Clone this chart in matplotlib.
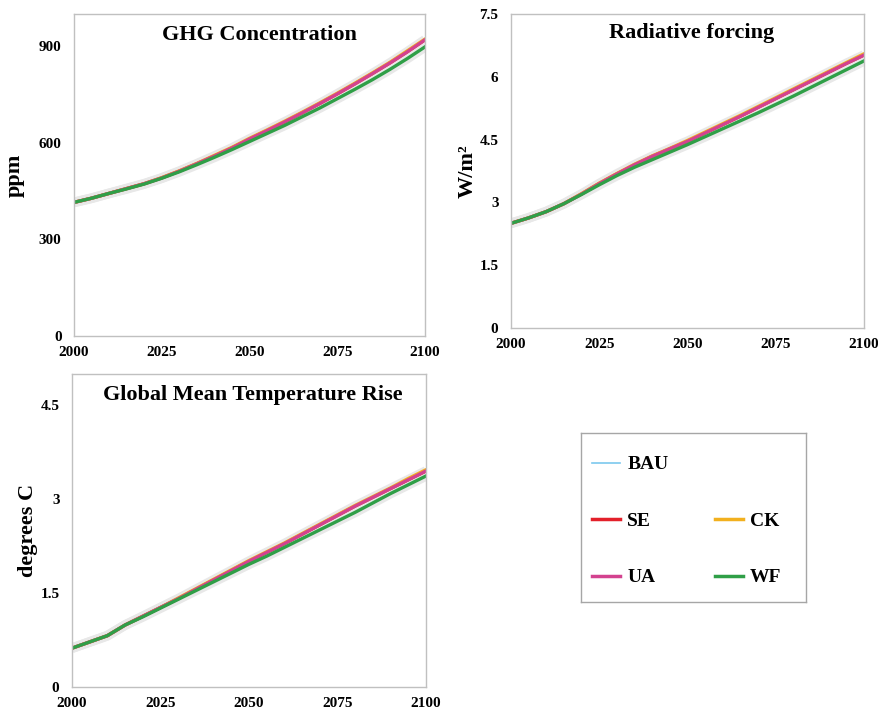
import matplotlib
matplotlib.use("Agg")
import matplotlib.pyplot as plt
from matplotlib.lines import Line2D

plt.rcParams["font.family"] = ["Liberation Serif", "DejaVu Serif"]
plt.rcParams["font.weight"] = "bold"

years = list(range(2000, 2101, 5))

# GHG concentration (ppm)
ghg_ua = [415, 428, 443, 458, 473, 491, 512, 535, 559, 584, 612,
          638, 665, 693, 722, 752, 783, 815, 848, 883, 920]
ghg_ck = [415, 428, 443, 458, 473, 492, 513, 536, 561, 586, 614,
          640, 667, 695, 724, 754, 785, 817, 850, 886, 922]
ghg_bau = ghg_ua
ghg_se = ghg_ua
ghg_wf = [415, 428, 443, 457, 472, 490, 510, 532, 555, 579, 604,
          629, 654, 681, 708, 737, 766, 796, 828, 862, 898]

# Radiative forcing (W/m2)
rf_ua = [2.50, 2.63, 2.78, 2.97, 3.20, 3.45, 3.68, 3.90, 4.10, 4.28, 4.46,
         4.66, 4.86, 5.06, 5.27, 5.48, 5.69, 5.90, 6.11, 6.32, 6.52]
rf_ck = [2.50, 2.63, 2.78, 2.97, 3.21, 3.46, 3.69, 3.91, 4.11, 4.29, 4.48,
         4.68, 4.88, 5.08, 5.29, 5.50, 5.71, 5.92, 6.13, 6.34, 6.55]
rf_bau = rf_ua
rf_se = rf_ua
rf_wf = [2.50, 2.63, 2.78, 2.97, 3.19, 3.42, 3.64, 3.84, 4.02, 4.20, 4.38,
         4.57, 4.76, 4.95, 5.14, 5.34, 5.54, 5.75, 5.96, 6.17, 6.38]

# Global mean temperature rise (degrees C)
tmp_ua = [0.62, 0.72, 0.82, 0.99, 1.13, 1.27, 1.41, 1.56, 1.71, 1.86, 2.01,
          2.15, 2.29, 2.44, 2.59, 2.74, 2.89, 3.03, 3.17, 3.31, 3.45]
tmp_ck = [0.62, 0.72, 0.82, 0.99, 1.13, 1.27, 1.42, 1.57, 1.72, 1.87, 2.02,
          2.16, 2.30, 2.45, 2.60, 2.75, 2.90, 3.04, 3.18, 3.33, 3.47]
tmp_bau = tmp_ua
tmp_se = tmp_ua
tmp_wf = [0.62, 0.72, 0.82, 0.99, 1.12, 1.26, 1.40, 1.54, 1.68, 1.82, 1.96,
          2.09, 2.23, 2.37, 2.51, 2.65, 2.79, 2.94, 3.09, 3.23, 3.37]

scenarios = ["BAU", "SE", "CK", "UA", "WF"]
colors = {"BAU": "#7cc8ee", "SE": "#e3202a", "CK": "#f2b01e",
          "UA": "#d3428f", "WF": "#2f9f47"}
widths = {"BAU": 1.0, "SE": 2.4, "CK": 2.4, "UA": 2.4, "WF": 2.4}

panels = [
    dict(rect=[0.0842, 0.5307, 0.3993, 0.4497], title="GHG Concentration",
         tx=0.528, ty=0.935, ylabel="ppm", ylim=(0, 1000), lpad=10,
         yticks=[0, 300, 600, 900], yticklabels=["0", "300", "600", "900"],
         data={"BAU": ghg_bau, "SE": ghg_se, "CK": ghg_ck, "UA": ghg_ua, "WF": ghg_wf}),
    dict(rect=[0.5813, 0.5419, 0.4016, 0.4385], title="Radiative forcing",
         tx=0.511, ty=0.94, ylabel="W/m²", ylim=(0, 7.5), lpad=1,
         yticks=[0, 1.5, 3, 4.5, 6, 7.5],
         yticklabels=["0", "1.5", "3", "4.5", "6", "7.5"],
         data={"BAU": rf_bau, "SE": rf_se, "CK": rf_ck, "UA": rf_ua, "WF": rf_wf}),
    dict(rect=[0.0819, 0.0405, 0.4027, 0.4372], title="Global Mean Temperature Rise",
         tx=0.51, ty=0.933, ylabel="degrees C", ylim=(0, 5), lpad=2,
         yticks=[0, 1.5, 3, 4.5], yticklabels=["0", "1.5", "3", "4.5"],
         data={"BAU": tmp_bau, "SE": tmp_se, "CK": tmp_ck, "UA": tmp_ua, "WF": tmp_wf}),
]

xticks = [2000, 2025, 2050, 2075, 2100]

fig = plt.figure(figsize=(8.79, 7.16), dpi=100)

for p in panels:
    ax = fig.add_axes(p["rect"])
    d = p["data"]
    # soft grey halo behind the scenario lines
    for key in ("UA", "WF"):
        ax.plot(years, d[key], color="#e8e8e8", lw=7, solid_capstyle="butt", zorder=1)
    for key in scenarios:
        ax.plot(years, d[key], color=colors[key], lw=widths[key], zorder=2)
    ax.set_xlim(2000, 2100)
    ax.set_ylim(*p["ylim"])
    ax.set_xticks(xticks)
    ax.set_xticklabels([str(x) for x in xticks])
    ax.set_yticks(p["yticks"])
    ax.set_yticklabels(p["yticklabels"])
    ax.tick_params(length=0, labelsize=11)
    ax.tick_params(axis="y", pad=9)
    ax.tick_params(axis="x", pad=7)
    for s in ax.spines.values():
        s.set_color("#c0c0c0")
        s.set_linewidth(1.0)
    ax.text(p["tx"], p["ty"], p["title"], transform=ax.transAxes,
            ha="center", va="center", fontsize=16, fontweight="bold")
    ax.set_ylabel(p["ylabel"], fontsize=16, fontweight="bold", labelpad=p["lpad"])

# legend box
lax = fig.add_axes([0.661, 0.159, 0.256, 0.236])
lax.set_xticks([])
lax.set_yticks([])
for s in lax.spines.values():
    s.set_color("#a6a6a6")
    s.set_linewidth(1.0)

handles = [
    Line2D([], [], color=colors["BAU"], lw=1.2),
    Line2D([], [], color=colors["SE"], lw=2.5),
    Line2D([], [], color=colors["UA"], lw=2.5),
    Line2D([], [], color="none", lw=0),
    Line2D([], [], color=colors["CK"], lw=2.5),
    Line2D([], [], color=colors["WF"], lw=2.5),
]
labels = ["BAU", "SE", "UA", "", "CK", "WF"]
lax.legend(handles, labels, ncol=2, loc="center", bbox_to_anchor=(0.47, 0.48),
           frameon=False, handlelength=1.45, handletextpad=0.35,
           columnspacing=2.4, labelspacing=2.0, prop={"weight": "bold", "size": 14})

fig.savefig("out.png", dpi=100)
